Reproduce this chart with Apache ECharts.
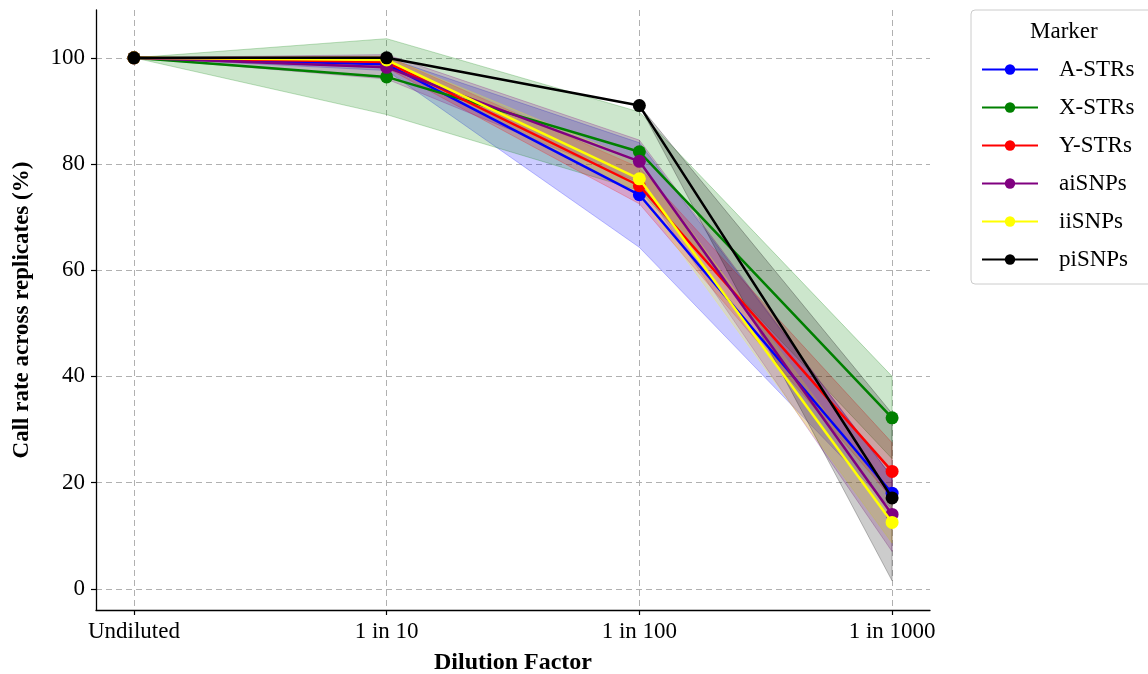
<!DOCTYPE html>
<html>
<head>
<meta charset="utf-8">
<script src="https://cdn.jsdelivr.net/npm/echarts@6/dist/echarts.min.js"></script>
<style>html,body{margin:0;padding:0;background:#fff;}#c{width:1148px;height:674px;}</style>
</head>
<body>
<div id="c"></div>
<script>
const categories = ['Undiluted', '1 in 10', '1 in 100', '1 in 1000'];
const xPos = [0, 1, 2, 3];
const yTicks = [0, 20, 40, 60, 80, 100];
const markerNames = ['A-STRs', 'X-STRs', 'Y-STRs', 'aiSNPs', 'iiSNPs', 'piSNPs'];
const markerColors = ['#0000ff', '#008000', '#ff0000', '#800080', '#ffff00', '#000000'];

const aSTRsMean = [100, 98.8, 74.2, 18.0];
const aSTRsLow  = [100, 97.6, 64.3, 15.0];
const aSTRsHigh = [100, 100.0, 84.0, 21.0];

const xSTRsMean = [100, 96.4, 82.3, 32.2];
const xSTRsLow  = [100, 89.3, 75.0, 24.5];
const xSTRsHigh = [100, 103.6, 89.8, 40.0];

const ySTRsMean = [100, 99.2, 75.9, 22.1];
const ySTRsLow  = [100, 98.1, 72.5, 17.0];
const ySTRsHigh = [100, 100.3, 79.3, 27.5];

const aiSNPsMean = [100, 98.2, 80.5, 14.0];
const aiSNPsLow  = [100, 96.0, 76.5, 7.0];
const aiSNPsHigh = [100, 100.6, 84.5, 21.0];

const iiSNPsMean = [100, 99.6, 77.2, 12.5];
const iiSNPsLow  = [100, 99.0, 74.0, 8.6];
const iiSNPsHigh = [100, 100.2, 80.5, 16.4];

const piSNPsMean = [100, 100, 91.0, 17.1];
const piSNPsLow  = [100, 100, 91.0, 1.5];
const piSNPsHigh = [100, 100, 91.0, 33.0];

const means = [aSTRsMean, xSTRsMean, ySTRsMean, aiSNPsMean, iiSNPsMean, piSNPsMean];
const lows = [aSTRsLow, xSTRsLow, ySTRsLow, aiSNPsLow, iiSNPsLow, piSNPsLow];
const highs = [aSTRsHigh, xSTRsHigh, ySTRsHigh, aiSNPsHigh, iiSNPsHigh, piSNPsHigh];

function rgba(hex, a) {
  const r = parseInt(hex.slice(1, 3), 16), g = parseInt(hex.slice(3, 5), 16), b = parseInt(hex.slice(5, 7), 16);
  return 'rgba(' + r + ',' + g + ',' + b + ',' + a + ')';
}

const FONT = '"Liberation Serif", "Times New Roman", serif';
const chart = echarts.init(document.getElementById('c'), null, { renderer: 'canvas' });

const series = [];
markerNames.forEach((name, k) => {
  const low = lows[k], high = highs[k], col = markerColors[k];
  series.push({
    type: 'custom',
    name: name + ' band',
    z: 1,
    silent: true,
    data: xPos.map((x, i) => [x, low[i], high[i]]),
    encode: { x: 0, y: [1, 2] },
    renderItem: function (params, api) {
      if (params.dataIndex !== 0) return null;
      const pts = [];
      for (let i = 0; i < xPos.length; i++) pts.push(api.coord([xPos[i], high[i]]));
      for (let i = xPos.length - 1; i >= 0; i--) pts.push(api.coord([xPos[i], low[i]]));
      return {
        type: 'polygon',
        shape: { points: pts },
        style: { fill: rgba(col, 0.2), stroke: rgba(col, 0.25), lineWidth: 1 }
      };
    }
  });
});
markerNames.forEach((name, k) => {
  series.push({
    type: 'line',
    name: name,
    z: 3 + k,
    data: xPos.map((x, i) => [x, means[k][i]]),
    symbol: 'circle',
    symbolSize: 13,
    showSymbol: true,
    color: markerColors[k],
    lineStyle: { width: 2.5, color: markerColors[k] },
    itemStyle: { color: markerColors[k] },
    emphasis: { disabled: true },
    animation: false
  });
});

const option = {
  animation: false,
  backgroundColor: '#ffffff',
  grid: { left: 96, right: 218, top: 10, bottom: 64, containLabel: false, outerBoundsMode: 'none' },
  xAxis: {
    type: 'value',
    min: -0.15,
    max: 3.15,
    name: 'Dilution Factor',
    nameLocation: 'middle',
    nameGap: 41,
    nameTextStyle: { fontFamily: FONT, fontSize: 24, fontWeight: 'bold', color: '#000' },
    axisLine: { show: true, onZero: false, lineStyle: { color: '#000', width: 1.3 } },
    axisTick: { show: true, length: 5, customValues: xPos, lineStyle: { color: '#000', width: 1.2 } },
    axisLabel: {
      customValues: xPos,
      fontFamily: FONT, fontSize: 23, color: '#000', margin: 10,
      formatter: v => categories[Math.round(v)]
    },
    splitLine: { show: true, customValues: xPos, lineStyle: { color: '#b0b0b0', type: [6, 4], width: 1 } }
  },
  yAxis: {
    type: 'value',
    min: -4,
    max: 109,
    name: 'Call rate across replicates (%)',
    nameLocation: 'middle',
    nameGap: 62,
    nameTextStyle: { fontFamily: FONT, fontSize: 23, fontWeight: 'bold', color: '#000' },
    axisLine: { show: true, onZero: false, lineStyle: { color: '#000', width: 1.3 } },
    axisTick: { show: true, length: 5, customValues: yTicks, lineStyle: { color: '#000', width: 1.2 } },
    axisLabel: { customValues: yTicks, fontFamily: FONT, fontSize: 23, color: '#000', margin: 11 },
    splitLine: { show: true, customValues: yTicks, lineStyle: { color: '#b0b0b0', type: [6, 4], width: 1 } }
  },
  legend: {
    data: markerNames,
    orient: 'vertical',
    left: 971,
    top: 10,
    padding: [48, 40, 13, 10],
    itemGap: 15,
    itemWidth: 56,
    itemHeight: 13,
    backgroundColor: '#fff',
    borderColor: '#cccccc',
    borderWidth: 1,
    borderRadius: 4,
    textStyle: { fontFamily: FONT, fontSize: 23, color: '#000', lineHeight: 21, padding: [0, 0, 0, 16] },
    selectedMode: false
  },
  graphic: [{
    type: 'text',
    left: 1030,
    top: 20,
    z: 100,
    style: { text: 'Marker', font: '23px ' + FONT, fill: '#000' }
  }],
  series: series
};
chart.setOption(option);
</script>
</body>
</html>
